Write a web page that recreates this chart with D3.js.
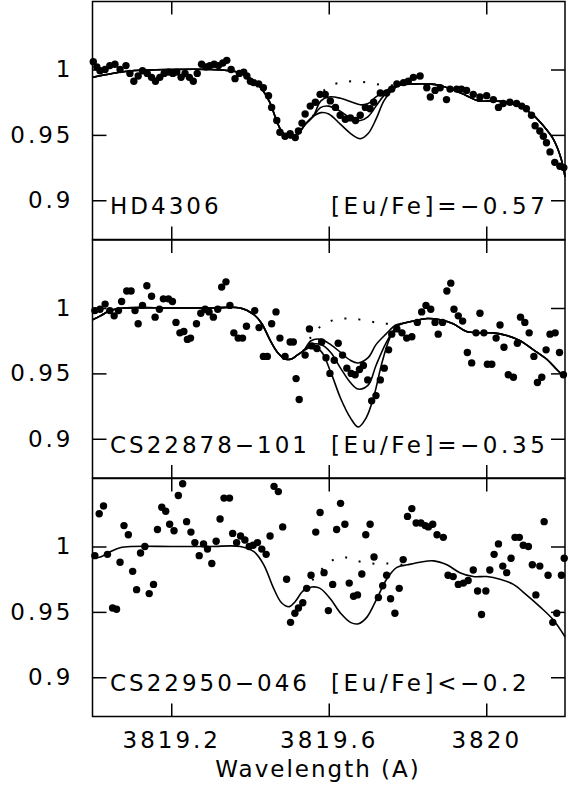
<!DOCTYPE html>
<html>
<head>
<meta charset="utf-8">
<script src="https://cdn.jsdelivr.net/npm/d3@7"></script>
<style>
body { margin: 0; background: #fff; }
text { font-family: "DejaVu Sans", sans-serif; font-size: 23px; letter-spacing: 3px; fill: #000; }
</style>
</head>
<body>
<script>
// tick values and panel labels
var xTicks = [3819.2, 3819.6, 3820];
var yTicks = [0.9, 0.95, 1];
var stars = ['HD4306', 'CS22878\u2212101', 'CS22950\u2212046'];
var abund = ['[Eu/Fe]=\u22120.57', '[Eu/Fe]=\u22120.35', '[Eu/Fe]<\u22120.2'];

// observed spectra [wavelength, normalised flux]
var obs1 = [[3819.002,1.006],[3819.011,1.002],[3819.019,0.999],[3819.032,1.000],[3819.044,1.003],[3819.057,1.004],[3819.070,1.000],[3819.085,1.003],[3819.095,0.997],[3819.105,0.991],[3819.116,0.995],[3819.127,0.999],[3819.139,0.997],[3819.150,0.994],[3819.160,0.991],[3819.171,0.994],[3819.182,0.997],[3819.193,0.998],[3819.204,0.997],[3819.214,0.998],[3819.225,0.994],[3819.235,0.997],[3819.246,0.994],[3819.256,0.991],[3819.266,0.997],[3819.277,1.004],[3819.288,1.002],[3819.298,1.003],[3819.309,1.004],[3819.320,1.003],[3819.331,1.005],[3819.341,1.007],[3819.352,1.000],[3819.362,0.993],[3819.373,0.997],[3819.384,0.998],[3819.392,0.995],[3819.401,0.991],[3819.409,0.990],[3819.422,0.989],[3819.434,0.986],[3819.447,0.980],[3819.455,0.971],[3819.468,0.961],[3819.476,0.952],[3819.489,0.949],[3819.502,0.951],[3819.515,0.948],[3819.523,0.953],[3819.532,0.959],[3819.540,0.966],[3819.553,0.972],[3819.566,0.975],[3819.578,0.981],[3819.591,0.981],[3819.604,0.976],[3819.617,0.971],[3819.629,0.965],[3819.642,0.962],[3819.655,0.963],[3819.668,0.961],[3819.680,0.965],[3819.693,0.971],[3819.705,0.970],[3819.714,0.975],[3819.731,0.982],[3819.747,0.982],[3819.760,0.985],[3819.773,0.989],[3819.790,0.990],[3819.802,0.991],[3819.815,0.994],[3819.832,0.995],[3819.849,0.986],[3819.858,0.979],[3819.870,0.984],[3819.883,0.986],[3819.899,0.977],[3819.908,0.985],[3819.925,0.985],[3819.937,0.985],[3819.950,0.984],[3819.967,0.981],[3819.984,0.979],[3820.001,0.980],[3820.018,0.977],[3820.031,0.971],[3820.043,0.974],[3820.060,0.975],[3820.077,0.974],[3820.090,0.972],[3820.102,0.970],[3820.115,0.965],[3820.124,0.957],[3820.136,0.953],[3820.145,0.949],[3820.153,0.944],[3820.162,0.937],[3820.174,0.929],[3820.187,0.926],[3820.197,0.925]];

var obs2 = [[3819.006,0.998],[3819.019,0.999],[3819.032,1.003],[3819.044,0.998],[3819.055,0.994],[3819.066,0.998],[3819.074,1.005],[3819.087,1.013],[3819.098,1.013],[3819.108,0.998],[3819.116,0.988],[3819.127,1.002],[3819.138,1.017],[3819.150,1.009],[3819.159,0.993],[3819.170,0.999],[3819.180,1.007],[3819.193,1.007],[3819.203,1.005],[3819.212,0.989],[3819.222,0.981],[3819.232,0.982],[3819.241,0.976],[3819.249,0.977],[3819.264,0.988],[3819.275,0.996],[3819.286,0.999],[3819.296,0.997],[3819.307,0.993],[3819.318,0.999],[3819.328,1.016],[3819.339,1.020],[3819.349,1.002],[3819.359,0.981],[3819.370,0.977],[3819.381,0.977],[3819.391,0.986],[3819.412,0.998],[3819.423,0.985],[3819.434,0.963],[3819.444,0.963],[3819.455,0.988],[3819.466,0.997],[3819.476,0.977],[3819.489,0.963],[3819.502,0.974],[3819.510,0.974],[3819.517,0.946],[3819.525,0.930],[3819.540,0.964],[3819.551,0.984],[3819.557,0.971],[3819.570,0.969],[3819.582,0.974],[3819.593,0.962],[3819.603,0.950],[3819.614,0.960],[3819.624,0.973],[3819.635,0.964],[3819.646,0.954],[3819.657,0.950],[3819.667,0.949],[3819.678,0.953],[3819.688,0.956],[3819.699,0.945],[3819.709,0.929],[3819.720,0.933],[3819.731,0.945],[3819.741,0.954],[3819.752,0.968],[3819.760,0.980],[3819.773,0.984],[3819.786,0.981],[3819.798,0.977],[3819.811,0.978],[3819.825,0.989],[3819.836,0.997],[3819.847,1.002],[3819.859,0.999],[3819.870,0.989],[3819.878,0.980],[3819.889,0.989],[3819.900,1.013],[3819.910,1.019],[3819.918,0.999],[3819.929,0.994],[3819.940,0.990],[3819.952,0.966],[3819.963,0.958],[3819.974,0.981],[3819.984,0.996],[3819.994,0.981],[3820.003,0.957],[3820.014,0.957],[3820.025,0.977],[3820.035,0.987],[3820.045,0.970],[3820.056,0.949],[3820.069,0.947],[3820.079,0.973],[3820.087,0.993],[3820.098,0.989],[3820.109,0.981],[3820.121,0.963],[3820.130,0.943],[3820.141,0.947],[3820.152,0.968],[3820.162,0.980],[3820.175,0.981],[3820.186,0.966],[3820.196,0.949]];

var obs3 = [[3819.006,0.993],[3819.017,1.025],[3819.028,1.031],[3819.038,0.994],[3819.051,0.953],[3819.061,0.952],[3819.070,0.988],[3819.080,1.016],[3819.091,1.009],[3819.102,0.981],[3819.112,0.967],[3819.122,0.995],[3819.133,1.000],[3819.144,0.964],[3819.155,0.971],[3819.165,1.013],[3819.176,1.030],[3819.186,1.027],[3819.196,1.017],[3819.207,1.012],[3819.218,1.039],[3819.229,1.048],[3819.239,1.019],[3819.250,1.011],[3819.260,1.003],[3819.271,0.993],[3819.282,1.002],[3819.292,0.998],[3819.303,0.987],[3819.314,1.004],[3819.324,1.021],[3819.334,1.037],[3819.348,1.037],[3819.356,1.010],[3819.366,1.003],[3819.376,1.008],[3819.387,1.005],[3819.398,1.000],[3819.408,1.001],[3819.419,1.003],[3819.430,0.998],[3819.441,0.994],[3819.451,1.008],[3819.461,1.046],[3819.472,1.042],[3819.483,1.015],[3819.493,0.975],[3819.503,0.942],[3819.514,0.949],[3819.523,0.953],[3819.534,0.957],[3819.544,0.968],[3819.555,0.978],[3819.567,1.011],[3819.578,1.026],[3819.588,0.980],[3819.599,0.951],[3819.610,0.971],[3819.620,1.013],[3819.630,1.033],[3819.641,1.017],[3819.652,0.972],[3819.663,0.962],[3819.673,0.963],[3819.684,0.979],[3819.694,1.009],[3819.705,1.017],[3819.715,0.992],[3819.726,0.961],[3819.737,0.970],[3819.747,0.978],[3819.757,0.960],[3819.768,0.949],[3819.779,0.968],[3819.789,0.990],[3819.800,1.023],[3819.811,1.029],[3819.822,1.018],[3819.834,1.018],[3819.845,1.016],[3819.853,1.015],[3819.864,1.017],[3819.875,1.009],[3819.891,1.007],[3819.903,0.978],[3819.916,0.977],[3819.929,0.971],[3819.942,0.972],[3819.954,0.974],[3819.967,0.982],[3819.978,0.966],[3819.988,0.948],[3819.999,0.966],[3820.009,0.982],[3820.020,0.994],[3820.031,1.002],[3820.042,0.985],[3820.052,0.980],[3820.063,0.991],[3820.073,1.007],[3820.084,1.007],[3820.094,1.001],[3820.107,1.000],[3820.117,0.986],[3820.126,0.963],[3820.136,0.985],[3820.147,1.019],[3820.157,0.978],[3820.169,0.942],[3820.179,0.949],[3820.191,0.978],[3820.198,0.991]];

// synthetic spectra: shared wings, then the Eu line region for each abundance
var syn1Left = [[3819.00,0.994],[3819.05,0.997],[3819.10,0.999],[3819.20,1.000],[3819.30,1.000],[3819.35,0.999],[3819.38,0.997],[3819.41,0.991],[3819.43,0.985],[3819.45,0.975],[3819.465,0.963],[3819.48,0.953],[3819.50,0.948],[3819.52,0.950],[3819.54,0.958],[3819.56,0.964]];
var syn1Top = [[3819.58,0.976],[3819.60,0.979],[3819.63,0.978],[3819.66,0.975],[3819.68,0.973],[3819.70,0.974],[3819.72,0.979],[3819.74,0.983],[3819.76,0.986]];
var syn1Mid = [[3819.58,0.971],[3819.60,0.972],[3819.63,0.968],[3819.66,0.962],[3819.68,0.961],[3819.70,0.964],[3819.72,0.972],[3819.74,0.980],[3819.76,0.985]];
var syn1Low = [[3819.58,0.967],[3819.60,0.966],[3819.63,0.958],[3819.66,0.950],[3819.68,0.947],[3819.70,0.951],[3819.72,0.962],[3819.74,0.976],[3819.76,0.984]];
var syn1NoEu = [[3819.58,0.981],[3819.60,0.987],[3819.63,0.990],[3819.66,0.991],[3819.70,0.990],[3819.74,0.988]];
var syn1Right = [[3819.78,0.988],[3819.82,0.989],[3819.85,0.989],[3819.88,0.988],[3819.92,0.984],[3819.95,0.980],[3819.98,0.976],[3820.02,0.976],[3820.05,0.975],[3820.09,0.971],[3820.12,0.965],[3820.145,0.957],[3820.17,0.947],[3820.19,0.932],[3820.20,0.918]];

var syn2Left = [[3819.00,0.991],[3819.02,0.994],[3819.045,0.998],[3819.08,1.000],[3819.20,1.000],[3819.30,1.000],[3819.375,1.000],[3819.41,0.995],[3819.43,0.988],[3819.45,0.976],[3819.47,0.966],[3819.49,0.961],[3819.505,0.961],[3819.52,0.964],[3819.535,0.967]];
var syn2Top = [[3819.555,0.975],[3819.58,0.976],[3819.605,0.972],[3819.63,0.966],[3819.655,0.960],[3819.675,0.958],[3819.70,0.962],[3819.72,0.972],[3819.745,0.980],[3819.77,0.987]];
var syn2Mid = [[3819.555,0.972],[3819.58,0.972],[3819.605,0.966],[3819.63,0.954],[3819.655,0.943],[3819.675,0.938],[3819.70,0.941],[3819.72,0.956],[3819.745,0.973],[3819.77,0.985]];
var syn2Low = [[3819.555,0.970],[3819.58,0.967],[3819.605,0.951],[3819.63,0.931],[3819.655,0.916],[3819.675,0.909],[3819.695,0.916],[3819.715,0.933],[3819.735,0.958],[3819.755,0.977],[3819.775,0.987]];
var syn2NoEu = [[3819.555,0.978],[3819.58,0.986],[3819.615,0.991],[3819.655,0.992],[3819.70,0.990],[3819.74,0.988]];
var syn2Right = [[3819.785,0.988],[3819.815,0.990],[3819.85,0.992],[3819.883,0.991],[3819.916,0.988],[3819.95,0.982],[3819.984,0.981],[3820.018,0.981],[3820.052,0.979],[3820.086,0.975],[3820.12,0.968],[3820.153,0.961],[3820.179,0.953],[3820.20,0.947]];

var syn3Left = [[3819.00,0.991],[3819.02,0.992],[3819.045,0.996],[3819.07,0.999],[3819.10,1.000],[3819.20,1.000],[3819.30,1.000],[3819.375,1.000],[3819.41,0.996],[3819.435,0.986],[3819.46,0.968],[3819.48,0.957],[3819.50,0.954],[3819.515,0.958],[3819.535,0.966]];
var syn3Mid = [[3819.557,0.969],[3819.578,0.968],[3819.604,0.960],[3819.63,0.949],[3819.655,0.942],[3819.676,0.941],[3819.697,0.946],[3819.722,0.960],[3819.747,0.975],[3819.773,0.984]];
var syn3NoEu = [[3819.555,0.973],[3819.575,0.980],[3819.597,0.987],[3819.633,0.992],[3819.671,0.989],[3819.709,0.987],[3819.747,0.987],[3819.789,0.986]];
var syn3Right = [[3819.80,0.986],[3819.832,0.988],[3819.866,0.989],[3819.90,0.986],[3819.933,0.980],[3819.967,0.977],[3820.001,0.977],[3820.035,0.975],[3820.069,0.971],[3820.102,0.963],[3820.136,0.954],[3820.17,0.944],[3820.20,0.931]];

var panels = [
  {obs: obs1, left: syn1Left, right: syn1Right, eu: [syn1Top, syn1Mid, syn1Low], noEu: syn1NoEu},
  {obs: obs2, left: syn2Left, right: syn2Right, eu: [syn2Top, syn2Mid, syn2Low], noEu: syn2NoEu},
  {obs: obs3, left: syn3Left, right: syn3Right, eu: [syn3Mid], noEu: syn3NoEu}
];

var w = 568, h = 795;
var left = 92.5, right = 565;
var panelTops = [1.5, 240, 478.5];
var panelH = 238;

var svg = d3.select('body').append('svg')
    .attr('width', w)
    .attr('height', h);

var x = d3.scaleLinear().domain([3819.0, 3820.2]).range([left, right]);

panels.forEach(function(p, i) {
    var top = panelTops[i];
    var y = d3.scaleLinear().domain([0.87, 1.052]).range([top + panelH, top]);
    var g = svg.append('g');

    var line = d3.line()
        .x(function(d) { return x(d[0]); })
        .y(function(d) { return y(d[1]); })
        .curve(d3.curveCatmullRom);

    // solid synthetic curves
    p.eu.forEach(function(seg) {
        g.append('path')
            .attr('d', line(p.left.concat(seg, p.right)))
            .attr('fill', 'none')
            .attr('stroke', '#000')
            .attr('stroke-width', 1.6);
    });
    // no-Eu synthesis, dotted
    g.append('path')
        .attr('d', line([p.left[p.left.length - 1]].concat(p.noEu, [p.right[0]])))
        .attr('fill', 'none')
        .attr('stroke', '#000')
        .attr('stroke-width', 2)
        .attr('stroke-dasharray', '2,12');

    // observed points
    g.selectAll('circle')
        .data(p.obs)
        .enter()
        .append('circle')
        .attr('cx', function(d) { return x(d[0]); })
        .attr('cy', function(d) { return y(d[1]); })
        .attr('r', 3.7)
        .attr('fill', '#000');

    // ticks on all four sides, pointing inward
    var ax = [
        g.append('g').call(d3.axisLeft(y).tickValues(yTicks).tickSize(-14).tickPadding(19)
            .tickFormat(function(d) { return String(d); })).attr('transform', 'translate(' + left + ',0)'),
        g.append('g').call(d3.axisRight(y).tickValues(yTicks).tickSize(-14).tickFormat('')).attr('transform', 'translate(' + right + ',0)'),
        g.append('g').call(d3.axisTop(x).tickValues(xTicks).tickSize(-13).tickFormat('')).attr('transform', 'translate(0,' + top + ')'),
        g.append('g').call(d3.axisBottom(x).tickValues(xTicks).tickSize(-13).tickPadding(15)
            .tickFormat(i === 2 ? d3.format('') : '')).attr('transform', 'translate(0,' + (top + panelH) + ')')
    ];
    ax.forEach(function(a) {
        a.select('.domain').remove();
        a.selectAll('line').attr('stroke-width', 1.5);
        a.selectAll('text').attr('font-family', null).attr('font-size', null).attr('fill', '#000')
            .style('font-size', '23px').style('font-family', '"DejaVu Sans", sans-serif');
    });

    // frame
    g.append('rect')
        .attr('x', left)
        .attr('y', top)
        .attr('width', right - left)
        .attr('height', panelH)
        .attr('fill', 'none')
        .attr('stroke', '#000')
        .attr('stroke-width', 1.5);

    // star name and abundance
    g.append('text')
        .attr('x', 110)
        .attr('y', y(0.9) + 14)
        .text(stars[i]);
    g.append('text')
        .attr('x', 331)
        .attr('y', y(0.9) + 14)
        .style('letter-spacing', '3.6px')
        .text(abund[i]);
});

svg.append('text')
    .attr('x', 318)
    .attr('y', 777)
    .attr('text-anchor', 'middle')
    .style('letter-spacing', '2px')
    .text('Wavelength (A)');
</script>
</body>
</html>
